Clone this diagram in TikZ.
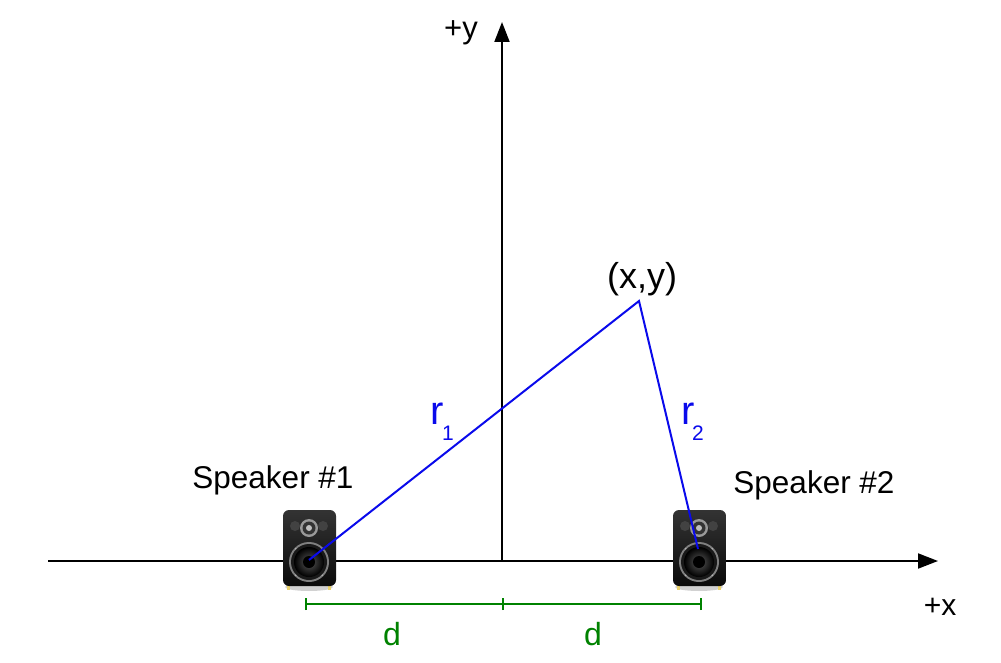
\documentclass[tikz,border=0pt]{standalone}
\usepackage{fontspec}
\setmainfont{Liberation Sans}
\usetikzlibrary{arrows.meta}
\definecolor{rblue}{RGB}{10,10,235}
\definecolor{dgreen}{RGB}{0,130,0}
\tikzset{
  axisline/.style={line width=2pt,black,-{Triangle[length=20pt,width=15pt]}},
  rline/.style={line width=2pt,rblue},
  dline/.style={line width=2pt,dgreen},
  lbl/.style={inner sep=0pt,anchor=base,font=\fontsize{31.5}{36}\selectfont},
  rlbl/.style={inner sep=0pt,anchor=base west,text=rblue,font=\fontsize{40}{44}\selectfont},
  rsub/.style={inner sep=0pt,anchor=base west,text=rblue,font=\fontsize{21}{24}\selectfont},
  dlbl/.style={inner sep=0pt,anchor=base,text=dgreen,font=\fontsize{32}{36}\selectfont},
  speaker/.pic={
    \fill[black!18] (0,25) ellipse (24pt and 4pt);
    \fill[yellow!50!brown!70] (-22,24) rectangle (-19,28);
    \fill[yellow!50!brown!70] (19,24) rectangle (22,28);
    \shade[top color=black!80, bottom color=black!96, rounded corners=6pt] (-26,-52) rectangle (27,24);
    \fill[black!74] (-14,-36) circle (5pt);
    \fill[black!74] (14,-36) circle (5pt);
    \fill[black!40] (0,-34) circle (9pt);
    \fill[black!80] (0,-34) circle (6.5pt);
    \fill[black!25] (0,-34) circle (3pt);
    \fill[black!50] (0,0) circle (20pt);
    \fill[black!90] (0,0) circle (18pt);
    \shade[inner color=black!65, outer color=black] (0,0) circle (15pt);
    \fill[black] (0,0) circle (6pt);
    \foreach \a in {45,135,225,315} \fill[black!30] (\a:18.8pt) circle (0.9pt);
  }
}
\begin{document}
\begin{tikzpicture}[x=1pt,y=-1pt]
\useasboundingbox (0,0) rectangle (1001,663);
% axes
\coordinate (xstart) at (48,561);
\coordinate (xend) at (938,561);
\coordinate (ystart) at (502,561);
\coordinate (yend) at (502,22);
\draw[axisline] (xstart) -- (xend);
\draw[axisline] (ystart) -- (yend);
% speakers
\pic at (309,562) {speaker};
\pic at (699,562) {speaker};
\coordinate (s1) at (309,560);
\coordinate (s2) at (698,549);
\coordinate (p) at (639,301);
\draw[rline] (s1) -- (p) -- (s2);
% distance bar
\coordinate (dl) at (306,604);
\coordinate (dm) at (503,604);
\coordinate (dr) at (701,604);
\draw[dline] (dl) -- (dr);
\draw[dline] ([yshift=-6pt]dl) -- ([yshift=6pt]dl);
\draw[dline,line width=2.6pt] ([yshift=-6pt]dm) -- ([yshift=6pt]dm);
\draw[dline] ([yshift=-6pt]dr) -- ([yshift=6pt]dr);
% labels
\node[lbl,font=\fontsize{31}{34}\selectfont] (ylab) at (461,39) {+y};
\node[lbl,font=\fontsize{30}{34}\selectfont] (xlab) at (940,615) {+x};
\node[lbl] (spk1) at (273,488) {Speaker \#1};
\node[lbl] (spk2) at (814,493) {Speaker \#2};
\node[lbl,font=\fontsize{36}{40}\selectfont] (pt) at (642,288) {(x,y)};
\node[rlbl] (r1) at (430,424) {r};
\node[rsub] (r1s) at (442,440) {1};
\node[rlbl] (r2) at (681,424) {r};
\node[rsub] (r2s) at (692,440) {2};
\node[dlbl] (d1) at (392,645) {d};
\node[dlbl] (d2) at (593,645) {d};
\end{tikzpicture}
\end{document}
